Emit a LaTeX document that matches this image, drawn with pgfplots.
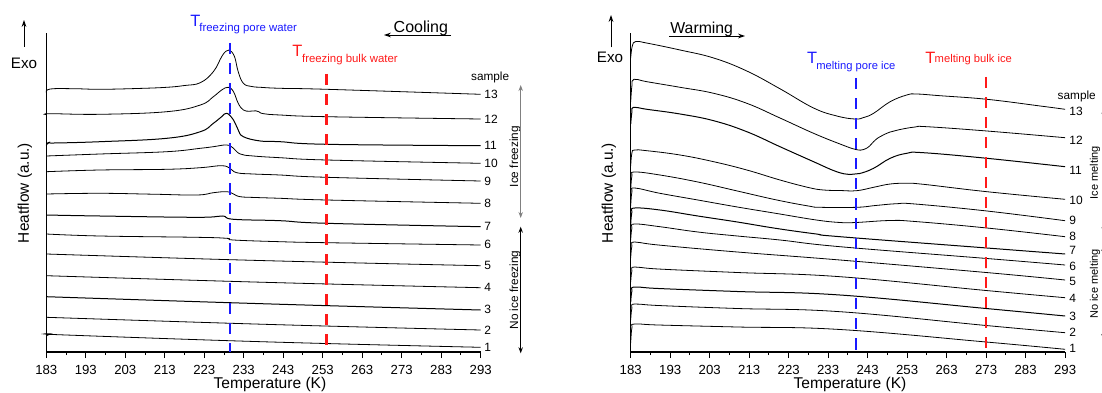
\documentclass[border=0pt]{standalone}
\usepackage{fontspec}
\setmainfont{Liberation Sans}
\usepackage{pgfplots}
\pgfplotsset{compat=1.18}
\usetikzlibrary{arrows.meta}
\definecolor{myblue}{RGB}{25,25,255}
\definecolor{myred}{RGB}{255,25,25}
\newcommand{\fs}[1]{\fontsize{#1}{#1}\selectfont}
\pgfplotsset{
 dsc/.style={
  scale only axis, width=217.2pt, height=159.5pt,
  xmin=183, xmax=293, ymin=0, ymax=319,
  axis x line*=bottom, axis y line*=left,
  axis line style={line width=0.6pt, -},
  xtick={183,193,...,293}, minor x tick num=1,
  ytick=\empty,
  tick align=outside, major tick length=3pt, minor tick length=1.6pt,
  tick style={line width=0.5pt, black},
  xticklabel style={font=\fs{6.6}},
  /pgf/number format/assume math mode=true,
  cycle list={{black, solid, line width=0.5pt, no marks}},
  every axis plot post/.append style={smooth, tension=0.7},
  clip=false,
 },
 vline/.style={line width=1.3pt, dash pattern=on 5.5pt off 4.5pt, no marks},
}
\begin{document}
\begin{tikzpicture}[x=0.5pt,y=0.5pt]
\path[use as bounding box] (0,0) rectangle (1102,392);
% ---------------- LEFT: cooling ----------------
\begin{axis}[dsc, at={(23.15pt,20pt)}, anchor=south west]
\addplot coordinates {(183,259.5) (184,263) (190,263.3) (196.6,262.7) (206,263.5) (213.5,264.7) (218,266.5) (222,269.3) (225.3,280.3) (227.4,295.3) (228.5,300.8) (229.3,302) (230,300) (230.8,293.7) (231.6,280.3) (232.9,268.7) (235,265.5) (237.2,264.7) (242.2,263.7) (254,262.7) (293,257.7)};
\addplot coordinates {(183,237.3) (184,238.3) (196.6,237.7) (213.5,240.3) (222,247) (225.3,255.3) (227.4,262) (229.1,264.7) (230.4,260.3) (231.6,248.7) (232.9,242) (234.5,240.8) (236,241.2) (236.8,240.3) (238,238.3) (242.2,237) (254,235.3) (293,233)};
\addplot coordinates {(183,206.5) (183.6,209.3) (185,209) (196.6,210.3) (213.5,213.7) (222,220.3) (225.3,228.7) (227.4,235.3) (228.7,238.7) (230.4,232) (231.6,222) (232.9,215.3) (237.2,211) (242.2,210.3) (254,207.7) (293,206.3)};
\addplot coordinates {(183,196) (196.6,198) (213.5,200.3) (222,203.7) (225.3,205.3) (228.7,207) (230.4,203.7) (232.1,198) (235.4,196) (242.2,194.3) (254,192) (293,188.7)};
\addplot coordinates {(183,180.3) (196.6,182) (213.5,182.7) (222,184.3) (227.4,186.3) (229.5,183.7) (231.2,179.3) (235.4,178) (242.2,177) (254,174.7) (293,171)};
\addplot coordinates {(183,158) (196.6,158.7) (210,157.8) (221.1,157) (225.3,159.3) (228.7,160.3) (230.4,158) (232.1,155.3) (236,154.5) (242.2,153.7) (254,152) (293,148.7)};
\addplot coordinates {(183,137) (196.6,136) (221.5,134.7) (227.5,136) (230.4,132.7) (242.2,131.3) (254,128.7) (293,125.3)};
\addplot coordinates {(183,118) (196.6,116) (221,114.7) (228.7,113.7) (230.4,112) (242.2,110.3) (254,109.3) (293,107)};
\addplot coordinates {(183,98) (237,91.5) (293,86.3)};
\addplot coordinates {(183,76.3) (240,69.5) (293,64.3)};
\addplot coordinates {(183,55.3) (240,48) (293,42)};
\addplot coordinates {(183,34.7) (240,27.5) (293,22)};
\addplot coordinates {(183,16) (184.5,18) (188,17) (240,10) (293,4.7)};
\addplot[myblue, vline] coordinates {(229.5,309) (229.5,0)};
\addplot[myred, vline] coordinates {(254,278) (254,0)};
\end{axis}
% ---------------- RIGHT: warming ----------------
\begin{axis}[dsc, at={(315.35pt,20pt)}, anchor=south west]
\addplot coordinates {(183,294) (183.4,306) (184.3,310.5) (187,309) (195.5,302) (204,294) (212.4,281) (220.9,263) (229.3,244) (235.2,236) (239.8,233) (242,234.5) (244.5,238.7) (248.7,250.3) (252.9,257) (255.4,258) (261.3,256.3) (273.2,252.7) (286.7,246) (293,242.7)};
\addplot coordinates {(183,250) (183.3,266) (183.8,272.7) (187.1,270.3) (195.5,264.7) (204,258.7) (212.4,248.7) (220.8,234) (229.3,218.7) (236,208) (240,202.5) (242,202.5) (243.5,206) (244.5,210.3) (246,215) (248.7,220) (251.2,222.5) (255,225) (258,225.3) (273.2,221) (293,214.3)};
\addplot coordinates {(183,228) (183.3,240) (183.7,244.7) (187.1,242.7) (195.5,238) (204,231.3) (212.4,220.3) (220.8,205.3) (229.3,190.3) (235,180.5) (238.5,177.5) (241,178.5) (244.5,183.7) (248.7,193.7) (252.9,198.7) (257.1,199.3) (273.2,193.7) (293,185.3)};
\addplot coordinates {(183,186) (183.3,199) (184,202) (187.1,201.3) (195.5,197) (204,190.3) (212.4,182) (220.8,172) (228,164.5) (231.8,162) (236,161.5) (240.2,161.3) (244.5,164.7) (248.7,168) (252.9,168.7) (257.1,167.7) (273.2,160.3) (293,152.7)};
\addplot coordinates {(183,162) (183.3,176) (184,180) (190.4,177) (200,170) (210,161) (220,152) (228,146) (231,144.7) (240.2,144.7) (245,146.5) (250.4,148.3) (255,148) (273.2,141) (293,131.3)};
\addplot coordinates {(183,146) (183.3,160) (184,164) (190.4,158.7) (200,152) (210,145) (220,138.5) (230,132) (236,129.5) (240,129.5) (248.7,131.5) (255,130.5) (273.2,124) (293,115.3)};
\addplot coordinates {(183,128) (183.3,140) (184,144) (190.4,142) (200,136) (210,130) (220,123.5) (230,118) (236,115.3) (273.2,104) (293,98)};
\addplot coordinates {(183,112) (183.3,124) (184,128) (190.4,125.3) (200,120) (210,116) (220.8,112) (236,105.3) (273.2,93.5) (293,87)};
\addplot coordinates {(183,94) (183.3,106) (184,110) (190,107) (210,100) (236,92) (273,79.5) (293,72)};
\addplot coordinates {(183,70) (183.3,81) (184,85) (190,83) (210,79.5) (236,75.3) (273,61.5) (293,54.3)};
\addplot coordinates {(183,50) (183.3,61) (184,65) (190,63.5) (210,60.5) (236,57) (273,43.5) (293,36)};
\addplot coordinates {(183,32) (183.3,44) (184,48) (190,46.5) (210,43.5) (236,40.3) (273,26.5) (293,19.3)};
\addplot coordinates {(183,9) (183.3,24) (184,28) (190,27) (210,25) (236,22.5) (273,10) (293,2.7)};
\addplot[myblue, vline] coordinates {(240,274) (240,0)};
\addplot[myred, vline] coordinates {(273,275) (273,0)};
\end{axis}
% ---------------- annotations ----------------
\tikzset{lab/.style={anchor=west, inner sep=0pt, font=\fs{6}}}
\foreach \n/\y in {13/297.7,12/273,11/246.3,10/228.7,9/211,8/188.7,7/165.3,6/147.3,5/126.3,4/104.3,3/83,2/62,1/44.7}
  \node[lab] at (484,\y) {\n};
\foreach \n/\y in {13/280.3,12/252,11/222,10/191.3,9/172,8/155.3,7/141.3,6/126,5/110.3,4/93.7,3/76,2/59.3,1/43.7}
  \node[lab] at (1069,\y) {\n};
\node[anchor=base west, inner sep=0pt, font=\fs{5.9}] at (470.7,312) {sample};
\node[anchor=base west, inner sep=0pt, font=\fs{5.9}] at (1057.3,293) {sample};
% Exo
\node[font=\fs{7.6}, inner sep=0pt] at (24,328.7) {Exo};
\draw[line width=0.5pt, -{Stealth[length=3.5pt,width=2.4pt]}] (24,345.3) -- (24,372);
\node[font=\fs{7.6}, inner sep=0pt] at (610,334.5) {Exo};
\draw[line width=0.5pt, -{Stealth[length=3.5pt,width=2.4pt]}] (611,344.7) -- (611,377);
% Heatflow
\node[rotate=90, font=\fs{7.7}, inner sep=0pt] at (25,199) {Heatflow (a.u.)};
\node[rotate=90, font=\fs{7.7}, inner sep=0pt] at (609,199) {Heatflow (a.u.)};
% Temperature
\node[anchor=base, font=\fs{7.8}, inner sep=0pt] at (270,3.7) {Temperature (K)};
\node[anchor=base, font=\fs{7.8}, inner sep=0pt] at (850,3.7) {Temperature (K)};
% Cooling / Warming
\node[anchor=base west, font=\fs{8}, inner sep=0pt] at (393.3,359.3) {Cooling};
\draw[line width=0.5pt, -{Stealth[length=3.5pt,width=2.4pt]}] (451,357) -- (384,357);
\node[anchor=base west, font=\fs{7.9}, inner sep=0pt] at (670,358.7) {Warming};
\draw[line width=0.5pt, -{Stealth[length=3.5pt,width=2.4pt]}] (669,356) -- (745,356);
% T labels
\tikzset{tl/.style={anchor=base west, inner sep=0pt}}
\node[tl, text=myblue, font=\fs{8.2}] at (190,365) {T};
\node[tl, text=myblue, font=\fs{5.7}] at (199,360.3) {freezing pore water};
\node[tl, text=myred, font=\fs{8.2}] at (292,335.3) {T};
\node[tl, text=myred, font=\fs{5.7}] at (301.7,329.3) {freezing bulk water};
\node[tl, text=myblue, font=\fs{8.2}] at (806.7,328.7) {T};
\node[tl, text=myblue, font=\fs{5.6}] at (816,322.7) {melting pore ice};
\node[tl, text=myred, font=\fs{8.2}] at (925,328.7) {T};
\node[tl, text=myred, font=\fs{5.6}] at (934.3,329) {melting bulk ice};
% side arrows
\node[rotate=90, font=\fs{5.9}, inner sep=0pt] at (515,235.3) {Ice freezing};
\node[rotate=90, font=\fs{5.9}, inner sep=0pt] at (515,102) {No ice freezing};
\draw[line width=0.5pt, gray, {Stealth[length=3pt,width=2.2pt]}-{Stealth[length=3pt,width=2.2pt]}] (520.7,307) -- (520.7,174);
\draw[line width=0.5pt, {Stealth[length=3pt,width=2.2pt]}-{Stealth[length=3pt,width=2.2pt]}] (520.7,165.3) -- (520.7,38.7);
\node[rotate=90, font=\fs{5.5}, inner sep=0pt] at (1095,219.3) {Ice melting};
\node[rotate=90, font=\fs{5.5}, inner sep=0pt] at (1095,108) {No ice melting};
\draw[line width=0.5pt, gray, {Stealth[length=3pt,width=2.2pt]}-{Stealth[length=3pt,width=2.2pt]}] (1103.5,284) -- (1103.5,159);
\draw[line width=0.5pt, {Stealth[length=3pt,width=2.2pt]}-{Stealth[length=3pt,width=2.2pt]}] (1103.5,147) -- (1103.5,52);
\end{tikzpicture}
\end{document}
